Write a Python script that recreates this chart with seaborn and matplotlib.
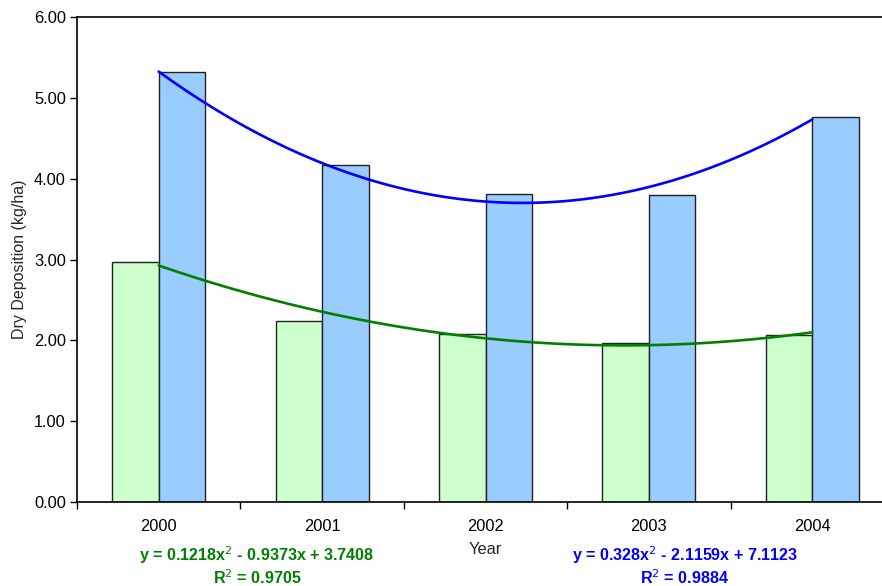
import matplotlib
matplotlib.use("Agg")
import matplotlib.pyplot as plt
import seaborn as sns
import numpy as np
import pandas as pd

years = ["2000", "2001", "2002", "2003", "2004"]
series_names = ["Green", "Blue"]
green_values = [2.97, 2.24, 2.08, 1.97, 2.07]
blue_values = [5.32, 4.17, 3.81, 3.80, 4.76]

# polynomial trend coefficients (a, b, c) for y = a*x^2 + b*x + c, x = 1..5
green_coef = [0.1218, -0.9373, 3.7408]
blue_coef = [0.328, -2.1159, 7.1123]
green_r2 = "0.9705"
blue_r2 = "0.9884"

sns.set_theme(style="white")
plt.rcParams["font.family"] = ["Liberation Sans", "DejaVu Sans"]

df = pd.DataFrame({
    "Year": years * 2,
    "Series": [series_names[0]] * len(years) + [series_names[1]] * len(years),
    "Value": green_values + blue_values,
})

fig = plt.figure(figsize=(8.82, 5.86), dpi=100)
ax = fig.add_axes([77 / 882, 84 / 586, (894 - 77) / 882, (502 - 17) / 586])

sns.barplot(data=df, x="Year", y="Value", hue="Series", order=years,
            hue_order=series_names, palette=["#CCFFCC", "#99CCFF"],
            width=0.57, edgecolor="#222222", linewidth=1.0, ax=ax,
            legend=False, errorbar=None, saturation=1)

# trend curves evaluated at the category centres
xs = np.linspace(1, 5, 200)
pos = xs - 1
for coef, col in [(green_coef, "#008000"), (blue_coef, "#0000FF")]:
    a, b, c = coef
    ax.plot(pos, a * xs ** 2 + b * xs + c, color=col, lw=1.9, zorder=5)

ax.set_xlim(-0.5, 4.5)
ax.set_ylim(0, 6)
ax.set_yticks(np.arange(0, 6.01, 1))
ax.set_yticklabels([f"{v:.2f}" for v in np.arange(0, 6.01, 1)], fontsize=11.8)
ax.set_xticks(range(len(years)))
ax.set_xticklabels(years, fontsize=11.8)
ax.set_xticks(np.arange(-0.5, 4.51, 1), minor=True)
ax.tick_params(axis="x", which="major", length=0, pad=12, colors="black")
ax.tick_params(axis="x", which="minor", length=5, width=1, color="black",
               direction="out", bottom=True)
ax.tick_params(axis="y", which="major", length=5, width=1, color="black",
               direction="out", left=True, pad=3, colors="black")

for side in ["left", "bottom", "top"]:
    ax.spines[side].set_visible(True)
    ax.spines[side].set_color("black")
    ax.spines[side].set_linewidth(1.2)
ax.spines["right"].set_visible(False)

ax.set_xlabel("Year", fontsize=11.8, labelpad=6)
ax.set_ylabel("Dry Deposition (kg/ha)", fontsize=11.5, labelpad=5)

def eq_text(coef):
    a, b, c = coef
    sb = "-" if b < 0 else "+"
    sc = "-" if c < 0 else "+"
    return f"y = {a:g}x$^2$ {sb} {abs(b):g}x {sc} {abs(c):g}"

fs = 11.6
fig.text(257 / 882, 1 - 555 / 586, eq_text(green_coef), color="#008000",
         fontsize=fs, fontweight="bold", ha="center", va="center")
fig.text(257 / 882, 1 - 578 / 586, f"R$^2$ = {green_r2}", color="#008000",
         fontsize=fs, fontweight="bold", ha="center", va="center")
fig.text(685 / 882, 1 - 555 / 586, eq_text(blue_coef), color="#0000FF",
         fontsize=fs, fontweight="bold", ha="center", va="center")
fig.text(685 / 882, 1 - 578 / 586, f"R$^2$ = {blue_r2}", color="#0000FF",
         fontsize=fs, fontweight="bold", ha="center", va="center")

fig.savefig("out.png", dpi=100)
